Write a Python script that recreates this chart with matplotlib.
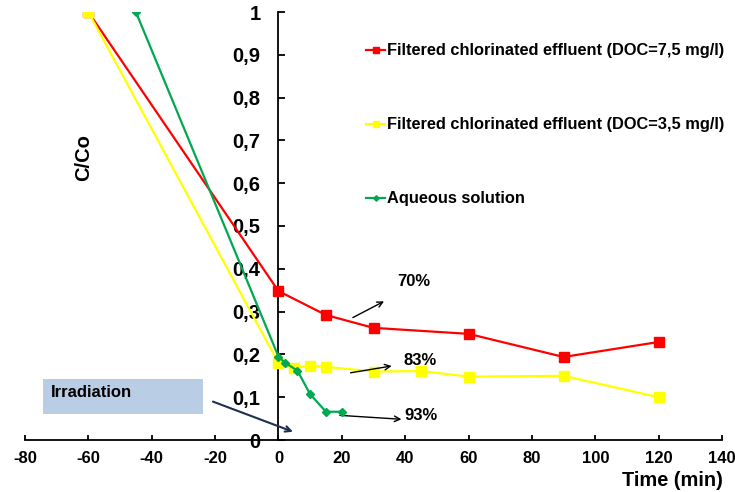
import matplotlib
matplotlib.use("Agg")
import matplotlib.pyplot as plt

plt.rcParams['font.family'] = ['Liberation Sans', 'DejaVu Sans']
plt.rcParams['font.weight'] = 'bold'

red_x = [-60, 0, 15, 30, 60, 90, 120]
red_y = [1.0, 0.348, 0.292, 0.262, 0.248, 0.194, 0.229]

yel_x = [-60, 0, 5, 10, 15, 30, 45, 60, 90, 120]
yel_y = [1.0, 0.18, 0.168, 0.174, 0.171, 0.16, 0.161, 0.148, 0.150, 0.10]

grn_x = [-45, 0, 2, 6, 10, 15, 20]
grn_y = [1.0, 0.195, 0.181, 0.162, 0.107, 0.066, 0.066]

labels = ["Filtered chlorinated effluent (DOC=7,5 mg/l)",
          "Filtered chlorinated effluent (DOC=3,5 mg/l)",
          "Aqueous solution"]

xticks = list(range(-80, 141, 20))
yticks = [i / 10 for i in range(0, 11)]
ytick_labels = ["0" if v == 0 else ("1" if v == 1 else f"{v:.1f}".replace(".", ",")) for v in yticks]

fig = plt.figure(figsize=(7.35, 4.92), dpi=100)
ax = fig.add_axes([25/735, 1 - 440/492, 697/735, 428/492])

ax.plot(red_x, red_y, color='#FF0000', lw=1.6, marker='s', ms=7, label=labels[0], zorder=3)
ax.plot(yel_x, yel_y, color='#FFFF00', lw=1.6, marker='s', ms=7, label=labels[1], zorder=3)
ax.plot(grn_x, grn_y, color='#00A850', lw=1.6, marker='D', ms=4, label=labels[2], zorder=4)

ax.set_xlim(-80, 140)
ax.set_ylim(0, 1)
for s in ['top', 'right']:
    ax.spines[s].set_visible(False)
ax.spines['left'].set_position(('data', 0))
ax.spines['bottom'].set_position(('data', 0))
ax.spines['left'].set_linewidth(1.3)
ax.spines['bottom'].set_linewidth(1.3)

ax.set_xticks(xticks)
ax.set_xticklabels([str(v) for v in xticks], fontsize=12, fontweight='bold')
ax.set_yticks(yticks)
ax.set_yticklabels(ytick_labels, fontsize=14.5, fontweight='bold')
ax.tick_params(axis='y', direction='in', length=5, width=1.3, pad=13)
ax.tick_params(axis='x', direction='in', length=3.5, width=1.3, pad=8)

ax.text(-61.5, 0.66, "C/Co", rotation=90, fontsize=14.5, fontweight='bold',
        ha='center', va='center')
fig.text(723/735, 1 - 480/492, "Time (min)", fontsize=14.4, fontweight='bold',
         ha='right', va='center')

leg = ax.legend(loc='upper left', bbox_to_anchor=(0.489, 0.927), frameon=False,
                fontsize=11.8, labelspacing=3.6, handlelength=1.2, handletextpad=0.1,
                borderpad=0, borderaxespad=0, markerscale=0.7)
for t in leg.get_texts():
    t.set_fontweight('bold')

# Annotations
ax.text(42.6, 0.37, "70%", fontsize=12, fontweight='bold', ha='center', va='center')
ax.annotate("", xy=(34.1, 0.327), xytext=(22.7, 0.283),
            arrowprops=dict(arrowstyle='->', color='black', lw=1))
ax.text(44.6, 0.185, "83%", fontsize=12, fontweight='bold', ha='center', va='center')
ax.annotate("", xy=(36.6, 0.174), xytext=(21.9, 0.156),
            arrowprops=dict(arrowstyle='->', color='black', lw=1))
ax.text(45.1, 0.058, "93%", fontsize=12, fontweight='bold', ha='center', va='center')
ax.annotate("", xy=(39.7, 0.048), xytext=(18.5, 0.058),
            arrowprops=dict(arrowstyle='->', color='black', lw=1))

ax.add_patch(plt.Rectangle((-74.2, 0.061), 50.3, 0.081, facecolor='#B9CDE5',
                           edgecolor='none', zorder=1))
ax.text(-71.9, 0.111, "Irradiation", fontsize=12, fontweight='bold', ha='left', va='center')
ax.annotate("", xy=(5.4, 0.017), xytext=(-21.5, 0.092),
            arrowprops=dict(arrowstyle='->', color='#1F2F4F', lw=1.5))

fig.savefig("out.png", dpi=100)
